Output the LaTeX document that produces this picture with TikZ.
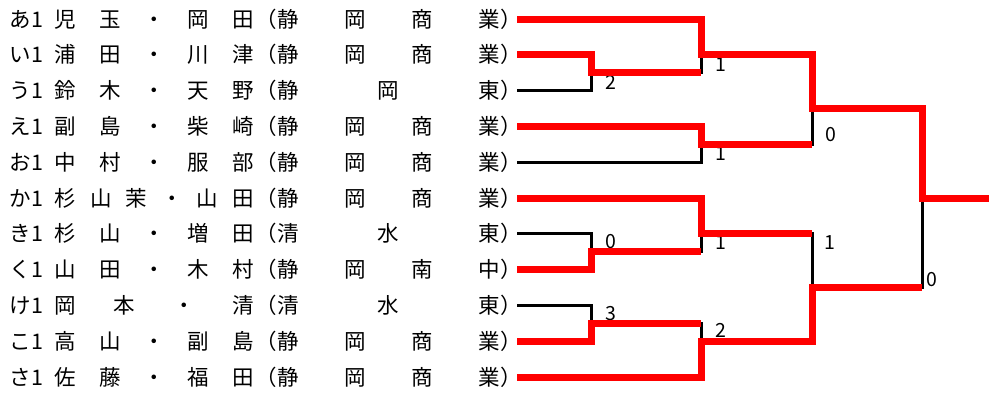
\documentclass[tikz,border=0pt]{standalone}
\usepackage{fontspec}
\setmainfont{Noto Sans CJK JP}

\begin{document}
\begin{tikzpicture}[x=1pt,y=-1pt,
 senshu/.style={anchor=west,inner sep=0pt,font=\fontsize{21.5}{24}\selectfont},
 tokuten/.style={inner sep=0pt,font=\fontsize{19.5}{22}\selectfont},
 win/.style={red,line width=7pt},
 lose/.style={black,line width=3pt}]
 \useasboundingbox (0,0) rectangle (989,394);

 %選手
 \node[senshu] (A) at (9.5,19) {\makebox[45pt][l]{あ1}\makebox[199pt][s]{児\hfill 玉\hfill ・\hfill 岡\hfill 田}\hspace{2pt}\makebox[266pt][s]{（静\hfill 岡\hfill 商\hfill 業）}};
 \node[senshu] (I) at (9.5,54.8) {\makebox[45pt][l]{い1}\makebox[199pt][s]{浦\hfill 田\hfill ・\hfill 川\hfill 津}\hspace{2pt}\makebox[266pt][s]{（静\hfill 岡\hfill 商\hfill 業）}};
 \node[senshu] (U) at (9.5,90.6) {\makebox[45pt][l]{う1}\makebox[199pt][s]{鈴\hfill 木\hfill ・\hfill 天\hfill 野}\hspace{2pt}\makebox[266pt][s]{（静\hfill 岡\hfill 東）}};
 \node[senshu] (E) at (9.5,126.4) {\makebox[45pt][l]{え1}\makebox[199pt][s]{副\hfill 島\hfill ・\hfill 柴\hfill 崎}\hspace{2pt}\makebox[266pt][s]{（静\hfill 岡\hfill 商\hfill 業）}};
 \node[senshu] (O) at (9.5,162.2) {\makebox[45pt][l]{お1}\makebox[199pt][s]{中\hfill 村\hfill ・\hfill 服\hfill 部}\hspace{2pt}\makebox[266pt][s]{（静\hfill 岡\hfill 商\hfill 業）}};
 \node[senshu] (KA) at (9.5,198) {\makebox[45pt][l]{か1}\makebox[199pt][s]{杉\hfill 山\hfill 茉\hfill ・\hfill 山\hfill 田}\hspace{2pt}\makebox[266pt][s]{（静\hfill 岡\hfill 商\hfill 業）}};
 \node[senshu] (KI) at (9.5,233.8) {\makebox[45pt][l]{き1}\makebox[199pt][s]{杉\hfill 山\hfill ・\hfill 増\hfill 田}\hspace{2pt}\makebox[266pt][s]{（清\hfill 水\hfill 東）}};
 \node[senshu] (KU) at (9.5,269.6) {\makebox[45pt][l]{く1}\makebox[199pt][s]{山\hfill 田\hfill ・\hfill 木\hfill 村}\hspace{2pt}\makebox[266pt][s]{（静\hfill 岡\hfill 南\hfill 中）}};
 \node[senshu] (KE) at (9.5,305.4) {\makebox[45pt][l]{け1}\makebox[199pt][s]{岡\hfill 本\hfill ・\hfill 清}\hspace{2pt}\makebox[266pt][s]{（清\hfill 水\hfill 東）}};
 \node[senshu] (KO) at (9.5,341.2) {\makebox[45pt][l]{こ1}\makebox[199pt][s]{高\hfill 山\hfill ・\hfill 副\hfill 島}\hspace{2pt}\makebox[266pt][s]{（静\hfill 岡\hfill 商\hfill 業）}};
 \node[senshu] (SA) at (9.5,377) {\makebox[45pt][l]{さ1}\makebox[199pt][s]{佐\hfill 藤\hfill ・\hfill 福\hfill 田}\hspace{2pt}\makebox[266pt][s]{（静\hfill 岡\hfill 商\hfill 業）}};

 %線の始点
 \coordinate (A0) at (517,19);
 \coordinate (I0) at (517,54.8);
 \coordinate (U0) at (517,90.6);
 \coordinate (E0) at (517,126.4);
 \coordinate (O0) at (517,162.2);
 \coordinate (KA0) at (517,198);
 \coordinate (KI0) at (517,233.8);
 \coordinate (KU0) at (517,269.6);
 \coordinate (KE0) at (517,305.4);
 \coordinate (KO0) at (517,341.2);
 \coordinate (SA0) at (517,377);

 %1回戦
 \coordinate (J1) at (591,72.7); %い・う
 \coordinate (J2) at (591,251.7); %き・く
 \coordinate (J3) at (591,323.3); %け・こ
 %2回戦
 \coordinate (K1) at (701,54.8);
 \coordinate (K2) at (701,144.3);
 \coordinate (K3) at (701,233.8);
 \coordinate (K4) at (701,341.2);
 %準決勝
 \coordinate (S1) at (812,108.5);
 \coordinate (S2) at (812,287.5);
 %決勝
 \coordinate (F) at (922,198);
 \coordinate (G) at (989,198);

 %得点
 \node[tokuten] (p1) at (610.5,82) {2};
 \node[tokuten] (p2) at (610.5,241.5) {0};
 \node[tokuten] (p3) at (610.5,313.7) {3};
 \node[tokuten] (p4) at (720.5,64.5) {1};
 \node[tokuten] (p5) at (720.5,154) {1};
 \node[tokuten] (p6) at (720.5,243) {1};
 \node[tokuten] (p7) at (721,330.7) {2};
 \node[tokuten] (p8) at (831,134.7) {0};
 \node[tokuten] (p9) at (830,243) {1};
 \node[tokuten] (p10) at (931.5,279.5) {0};

 %黒線
 \draw[lose] (U0) -| (J1);
 \draw[lose] (J1) -| (K1);
 \draw[lose] (O0) -| (K2);
 \draw[lose] (K2) -| (S1);
 \draw[lose] (KI0) -| (J2);
 \draw[lose] (J2) -| (K3);
 \draw[lose] (KE0) -| (J3);
 \draw[lose] (J3) -| (K4);
 \draw[lose] (K3) -| (S2);
 \draw[lose] (S2) -| (F);

 %赤線(勝ち上がり)
 \draw[win] (A0) -| (K1) -| (S1) -| (F) -- (G); %優勝
 \draw[win] (I0) -| (J1) -- (J1 -| K1);
 \draw[win] (E0) -| (K2) -- (K2 -| S1);
 \draw[win] (KA0) -| (K3) -- (K3 -| S2);
 \draw[win] (KU0) -| (J2) -- (J2 -| K3);
 \draw[win] (KO0) -| (J3) -- (J3 -| K4);
 \draw[win] (SA0) -| (K4) -| (S2) -- (S2 -| F);
\end{tikzpicture}
\end{document}
